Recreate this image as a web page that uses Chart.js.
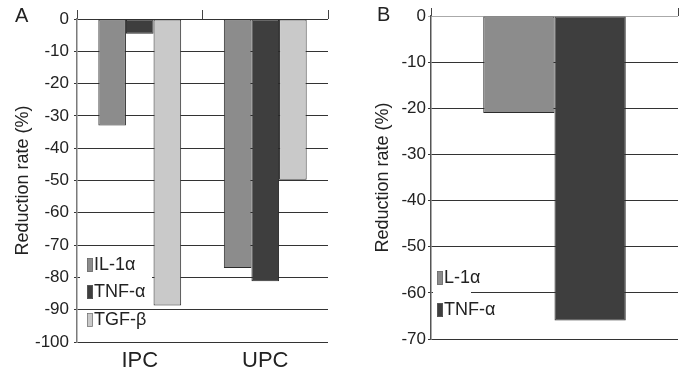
<!DOCTYPE html>
<html>
<head>
<meta charset="utf-8">
<script src="https://cdn.jsdelivr.net/npm/chart.js@4"></script>
<style>
  body { margin: 0; background: #fff; }
  .panel { position: absolute; top: 0; }
</style>
</head>
<body>
<div class="panel" style="left:0"><canvas id="chartA" width="345" height="374"></canvas></div>
<div class="panel" style="left:345px"><canvas id="chartB" width="344" height="374"></canvas></div>
<script>
// panel A data
const categoriesA = ['IPC', 'UPC'];
const il1aA = [-33, -77.1];
const tnfaA = [-4.6, -81.2];
const tgfbA = [-88.7, -49.8];
const legendA = ['IL-1α', 'TNF-α', 'TGF-β'];

// panel B data
const categoriesB = [''];
const il1aB = [-21];
const tnfaB = [-66];
const legendB = ['L-1α', 'TNF-α'];

const FONT = "'Liberation Sans', Arial, sans-serif";
const C_IL = '#8c8c8c';
const C_TNF = '#3e3e3e';
const C_TGF = '#c9c9c9';
const EDGE = '#2b2b2b';
const TEXT = '#222';

function barSet(label, data, color, catPct) {
    return {
        label: label,
        data: data,
        backgroundColor: color,
        borderColor: EDGE,
        borderWidth: 1,
        borderSkipped: false,
        barPercentage: 1.0,
        categoryPercentage: catPct
    };
}

// draws the panel letter and the little in-plot legend
function overlay(letter, lx, ly, items, box) {
    return {
        id: 'overlay',
        afterDraw(chart) {
            const ctx = chart.ctx;
            ctx.save();
            ctx.fillStyle = '#fff';
            ctx.fillRect(box[0], box[1], box[2], box[3]);
            ctx.fillStyle = TEXT;
            ctx.font = '20px ' + FONT;
            ctx.textBaseline = 'middle';
            ctx.textAlign = 'left';
            ctx.fillText(letter, lx, ly);
            ctx.font = '18px ' + FONT;
            items.forEach(it => {
                ctx.fillStyle = it.color;
                ctx.fillRect(it.x, it.y - 7, 6, 14);
                ctx.strokeStyle = '#666';
                ctx.lineWidth = 0.6;
                ctx.strokeRect(it.x + 0.5, it.y - 6.5, 5, 13);
                ctx.fillStyle = TEXT;
                ctx.fillText(it.text, it.x + 7, it.y);
            });
            ctx.restore();
        }
    };
}

function makeOptions(opt) {
    return {
        responsive: false,
        animation: false,
        layout: { padding: opt.padding },
        plugins: { legend: { display: false }, tooltip: { enabled: false } },
        scales: {
            x: {
                display: opt.showX,
                offset: true,
                grid: { display: false, drawTicks: false },
                border: { display: false },
                ticks: { color: TEXT, padding: 6, font: { family: FONT, size: 22 } },
                afterFit: s => { s.height = 32; }
            },
            x2: {
                type: 'category',
                position: 'top',
                offset: true,
                grid: { offset: true, drawOnChartArea: false, tickLength: opt.topTick, color: '#444', lineWidth: 1 },
                border: { display: false },
                ticks: { display: false },
                afterFit: s => { s.height = opt.topTick; }
            },
            y: {
                min: opt.min,
                max: 0,
                ticks: { stepSize: 10, color: TEXT, padding: opt.tickPad, font: { family: FONT, size: 17 } },
                grid: {
                    color: ctx => (opt.grayZero && ctx.tick && ctx.tick.value === 0) ? '#aaa' : '#333',
                    lineWidth: 1,
                    tickLength: 3
                },
                border: { color: opt.axisColor, width: 1.5 },
                title: {
                    display: true,
                    text: 'Reduction rate (%)',
                    color: TEXT,
                    padding: { top: opt.titlePad, bottom: 0 },
                    font: { family: FONT, size: 18 }
                },
                afterFit: s => { s.width = opt.yWidth; }
            }
        }
    };
}

new Chart(document.getElementById('chartA').getContext('2d'), {
    type: 'bar',
    data: {
        labels: categoriesA,
        datasets: [
            barSet(legendA[0], il1aA, C_IL, 0.66),
            barSet(legendA[1], tnfaA, C_TNF, 0.66),
            barSet(legendA[2], tgfbA, C_TGF, 0.66)
        ]
    },
    options: makeOptions({
        padding: { top: 10, right: 17, left: 0, bottom: 0 },
        showX: true, topTick: 9, min: -100,
        tickPad: 5, grayZero: false, axisColor: '#7a7a7a',
        titlePad: 12, yWidth: 77
    }),
    plugins: [overlay('A', 15, 16, [
        { text: legendA[0], color: C_IL, x: 87, y: 265 },
        { text: legendA[1], color: C_TNF, x: 87, y: 292 },
        { text: legendA[2], color: C_TGF, x: 87, y: 320 }
    ], [80, 252, 72, 50])]
});

new Chart(document.getElementById('chartB').getContext('2d'), {
    type: 'bar',
    data: {
        labels: categoriesB,
        datasets: [
            barSet(legendB[0], il1aB, C_IL, 0.577),
            barSet(legendB[1], tnfaB, C_TNF, 0.577)
        ]
    },
    options: makeOptions({
        padding: { top: 8, right: 11, left: 0, bottom: 3 },
        showX: false, topTick: 8, min: -70,
        tickPad: 2, grayZero: true, axisColor: '#555',
        titlePad: 27, yWidth: 86
    }),
    plugins: [overlay('B', 32, 15, [
        { text: legendB[0], color: C_IL, x: 92, y: 278 },
        { text: legendB[1], color: C_TNF, x: 92, y: 310 }
    ], [88, 286, 38, 14])]
});
</script>
</body>
</html>
